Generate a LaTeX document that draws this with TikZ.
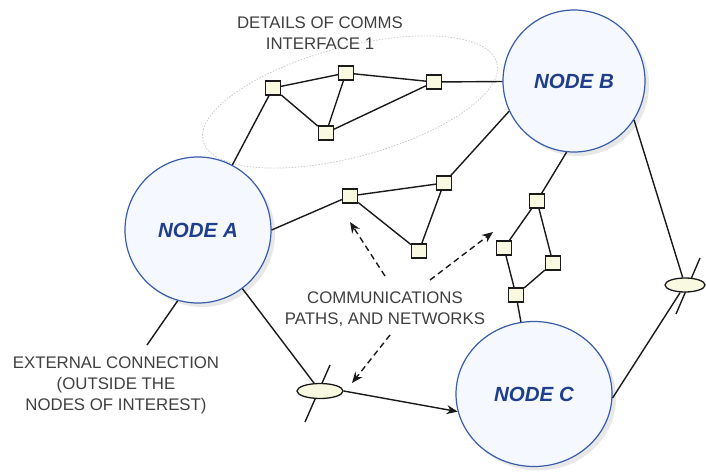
\documentclass[tikz,border=0pt]{standalone}
\usepackage{fontspec}
\setmainfont{Liberation Sans}
\usetikzlibrary{shapes.geometric, arrows.meta, shadows}
\definecolor{nodefill}{HTML}{F5F8FE}
\definecolor{nodedraw}{HTML}{3A5CAA}
\definecolor{nodetext}{HTML}{1F3E8C}
\definecolor{boxfill}{HTML}{F8F9E0}
\definecolor{labeltext}{HTML}{404040}
\definecolor{linecol}{HTML}{1A1A1A}
\definecolor{ringcol}{HTML}{C4C4C4}
\begin{document}
\begin{tikzpicture}[x=1pt,y=-1pt,
  bignode/.style={draw=nodedraw, line width=1.2pt, fill=nodefill, inner sep=0pt,
    font=\fontsize{20.5}{22}\selectfont\bfseries\itshape, text=nodetext,
    drop shadow={shadow xshift=4pt, shadow yshift=-4pt, fill=black!25, opacity=0.35}},
  roundnode/.style={bignode, circle, minimum size=146pt},
  ovalnode/.style={bignode, ellipse, minimum width=156pt, minimum height=145pt},
  sq/.style={rectangle, draw=linecol, fill=boxfill, line width=1.3pt, minimum width=15pt, minimum height=14pt, inner sep=0pt},
  bus/.style={ellipse, draw=linecol, fill=boxfill, line width=1.3pt, minimum width=46pt, minimum height=15pt, inner sep=0pt},
  wire/.style={draw=linecol, line width=1.4pt},
  hint/.style={draw=linecol, line width=1.4pt, dash pattern=on 6pt off 4pt, -{Stealth[length=11pt,width=9pt]}},
  note/.style={text=labeltext, font=\fontsize{16.8}{21}\selectfont, align=center, inner sep=0pt},
  ring/.style={ellipse, draw=ringcol, line width=0.7pt, dash pattern=on 1.5pt off 1.5pt, minimum width=304pt, minimum height=110pt, inner sep=0pt}
]
\useasboundingbox[fill=white] (0,0) rectangle (706,473);

% dotted interface ring
\node[ring, rotate=15] (ring) at (350,102) {};

% texts
\node[note] (details) at (320,33) {DETAILS OF COMMS\\INTERFACE 1};
\node[note] (comms) at (385,309) {COMMUNICATIONS\\PATHS, AND NETWORKS};
\node[note] (ext) at (116,385) {EXTERNAL CONNECTION\\(OUTSIDE THE\\NODES OF INTEREST)};

% crossing strokes of the bus symbols
\coordinate (x1a) at (330,365);
\coordinate (x1b) at (305,422);
\coordinate (x2a) at (700,258);
\coordinate (x2b) at (676,314);
\draw[wire] (x1a) -- (x1b);
\draw[wire] (x2a) -- (x2b);

% main nodes
\node[roundnode] (A) at (198,230) {NODE A};
\node[roundnode, minimum size=142pt] (B) at (574,81) {NODE B};
\node[ovalnode] (C) at (534,394) {NODE C};

% small network nodes
\node[sq] (s1) at (273,88) {};
\node[sq] (s2) at (346,73) {};
\node[sq] (s3) at (434,82) {};
\node[sq] (s4) at (326,133) {};

\node[sq] (m1) at (350,196) {};
\node[sq] (m2) at (444,183) {};
\node[sq] (m3) at (419,251) {};

\node[sq] (r1) at (537,201) {};
\node[sq] (r2) at (504,248) {};
\node[sq] (r3) at (553,263) {};
\node[sq] (r4) at (516,295) {};

\node[bus] (E1) at (320,391) {};
\node[bus, minimum width=40pt, minimum height=14pt] (E2) at (685,285) {};

\coordinate (outside) at (147,345);

% connectors, upper interface
\draw[wire] (A) -- (s1);
\draw[wire] (s1) -- (s2);
\draw[wire] (s2) -- (s3);
\draw[wire] (s1) -- (s4);
\draw[wire] (s2) -- (s4);
\draw[wire] (s4) -- (s3);
\draw[wire] (s3) -- (B);

% middle network
\draw[wire] (A.east) -- (m1);
\draw[wire] (m1) -- (m2);
\draw[wire] (m1) -- (m3);
\draw[wire] (m3) -- (m2);
\draw[wire] (m2) -- (B.205);

% right network
\draw[wire] (B.264) -- (r1);
\draw[wire] (r1) -- (r2);
\draw[wire] (r1) -- (r3);
\draw[wire] (r2) -- (r4);
\draw[wire] (r3) -- (r4);
\draw[wire] (r4) -- (C);

% buses
\draw[wire] (A) -- (E1);
\draw[wire, -{Stealth[length=11pt,width=9pt]}] (E1.east) -- (C.193);
\draw[wire] (B.-33) -- (E2);
\draw[wire] (E2) -- (C.-3);

% external connection
\draw[wire] (A.254) -- (outside);

% dashed pointers
\coordinate (d1s) at (385,276);
\coordinate (d1e) at (350,222);
\coordinate (d2s) at (430,280);
\coordinate (d2e) at (493,232);
\coordinate (d3s) at (390,335);
\coordinate (d3e) at (352,383);
\draw[hint] (d1s) -- (d1e);
\draw[hint] (d2s) -- (d2e);
\draw[hint] (d3s) -- (d3e);
\end{tikzpicture}
\end{document}
